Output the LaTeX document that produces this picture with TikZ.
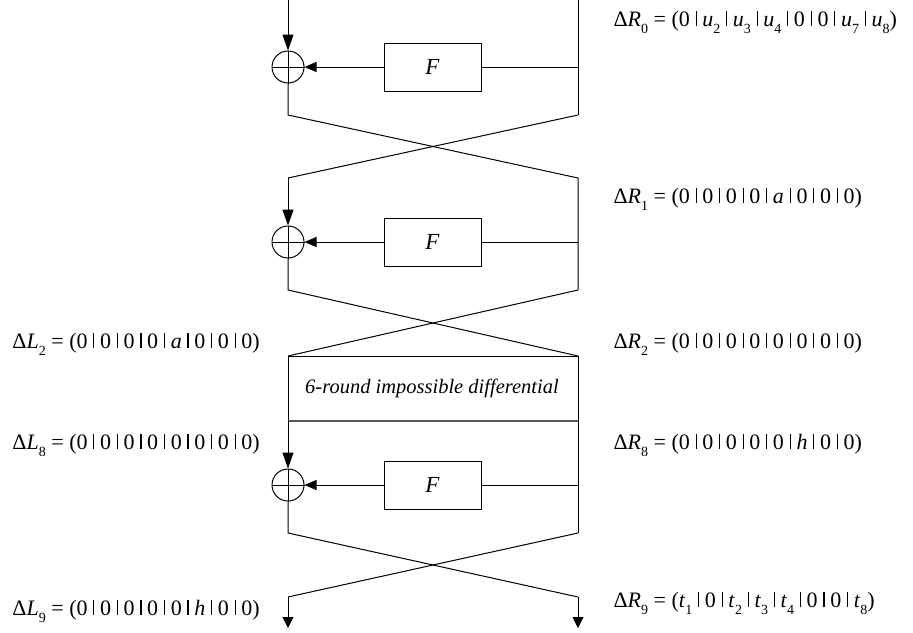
\documentclass[tikz,border=0pt]{standalone}
\usepackage{fontspec}
\setmainfont{Liberation Serif}
\usetikzlibrary{arrows.meta}
\newcommand{\sub}[1]{\raisebox{-0.32em}{\fontsize{14}{14}\selectfont #1}}
\newcommand{\sep}{\hspace{0.26em}\rule[-0.01em]{0.05em}{0.68em}\hspace{0.26em}}
\newcommand{\iv}[1]{\textit{#1}}
\newcommand{\eqs}{\hspace{0.25em}=\hspace{0.25em}}
\begin{document}
\begin{tikzpicture}[x=1pt,y=-1pt,line width=1pt,
  xorc/.style={circle,draw,minimum size=32pt,inner sep=0pt},
  fbox/.style={draw,minimum width=97pt,minimum height=48pt,inner sep=0pt,font=\fontsize{23}{26}\selectfont\itshape},
  lbl/.style={inner sep=0pt,font=\fontsize{22}{26}\selectfont},
  downarr/.style={-{Triangle[length=16pt,width=11pt]}},
  endarr/.style={-{Triangle[length=11pt,width=11pt]}},
  farr/.style={-{Triangle[length=12pt,width=10pt]}}]
\useasboundingbox (0,0) rectangle (913,632);
% round 1
\coordinate (t1L) at (288,0);
\coordinate (t1R) at (578,0);
\node[xorc] (x1) at (288,67) {};
\node[fbox] (f1) at (432.5,67) {F};
\coordinate (br1) at (578,67);
\coordinate (a1) at (288,115);
\coordinate (b1) at (578,115);
\coordinate (c1) at (288,178);
\coordinate (d1) at (578,178);
% round 2
\node[xorc] (x2) at (288,242) {};
\node[fbox] (f2) at (432.5,242) {F};
\coordinate (br2) at (578,242);
\coordinate (a2) at (288,290);
\coordinate (b2) at (578,290);
\coordinate (c2) at (288,356);
\coordinate (d2) at (578,356);
% impossible box
\coordinate (g2) at (288,421);
\coordinate (h2) at (578,421);
\node[inner sep=0pt,font=\fontsize{20.5}{24}\selectfont\itshape] (imp) at (432,388) {6-round impossible differential};
% round 3
\node[xorc] (x3) at (288,485) {};
\node[fbox] (f3) at (432.5,485) {F};
\coordinate (br3) at (578,485);
\coordinate (a3) at (288,533);
\coordinate (b3) at (578,533);
\coordinate (c3) at (288,597);
\coordinate (d3) at (578,597);
\coordinate (e3L) at (288,628);
\coordinate (e3R) at (578,628);
% xor crosses
\foreach \n in {x1,x2,x3}{
  \draw (\n.north) -- (\n.south);
  \draw (\n.west) -- (\n.east);
}
% round 1 lines
\draw[downarr] (t1L) -- (x1.north);
\draw (t1R) -- (b1);
\draw (br1) -- (f1.east);
\draw[farr] (f1.west) -- (x1.east);
\draw (x1.south) -- (a1) -- (d1) -- (b2);
\draw (b1) -- (c1);
\draw[downarr] (c1) -- (x2.north);
% round 2 lines
\draw (br2) -- (f2.east);
\draw[farr] (f2.west) -- (x2.east);
\draw (x2.south) -- (a2) -- (d2);
\draw (b2) -- (c2);
\draw (c2) -- (d2) -- (h2);
\draw (c2) -- (g2);
\draw[line width=1.4pt,black!65] (g2) -- (h2);
% round 3 lines
\draw[downarr] (g2) -- (x3.north);
\draw (h2) -- (b3);
\draw (br3) -- (f3.east);
\draw[farr] (f3.west) -- (x3.east);
\draw (x3.south) -- (a3) -- (d3);
\draw[endarr] (d3) -- (e3R);
\draw (b3) -- (c3);
\draw[endarr] (c3) -- (e3L);
% labels
\node[lbl,anchor=base west] (r0) at (613,26) {Δ\iv{R}\sub{0}\eqs(0\sep\iv{u}\sub{2}\sep\iv{u}\sub{3}\sep\iv{u}\sub{4}\sep0\sep0\sep\iv{u}\sub{7}\sep\iv{u}\sub{8})};
\node[lbl,anchor=base west] (r1) at (613,203) {Δ\iv{R}\sub{1}\eqs(0\sep0\sep0\sep0\sep\iv{a}\sep0\sep0\sep0)};
\node[lbl,anchor=base west] (l2) at (12,348) {Δ\iv{L}\sub{2}\eqs(0\sep0\sep0\sep0\sep\iv{a}\sep0\sep0\sep0)};
\node[lbl,anchor=base west] (r2) at (613,348) {Δ\iv{R}\sub{2}\eqs(0\sep0\sep0\sep0\sep0\sep0\sep0\sep0)};
\node[lbl,anchor=base west] (l8) at (12,449) {Δ\iv{L}\sub{8}\eqs(0\sep0\sep0\sep0\sep0\sep0\sep0\sep0)};
\node[lbl,anchor=base west] (r8) at (613,449) {Δ\iv{R}\sub{8}\eqs(0\sep0\sep0\sep0\sep0\sep\iv{h}\sep0\sep0)};
\node[lbl,anchor=base west] (l9) at (12,615) {Δ\iv{L}\sub{9}\eqs(0\sep0\sep0\sep0\sep0\sep\iv{h}\sep0\sep0)};
\node[lbl,anchor=base west] (r9) at (613,607) {Δ\iv{R}\sub{9}\eqs(\iv{t}\sub{1}\sep0\sep\iv{t}\sub{2}\sep\iv{t}\sub{3}\sep\iv{t}\sub{4}\sep0\sep0\sep\iv{t}\sub{8})};
\end{tikzpicture}
\end{document}
